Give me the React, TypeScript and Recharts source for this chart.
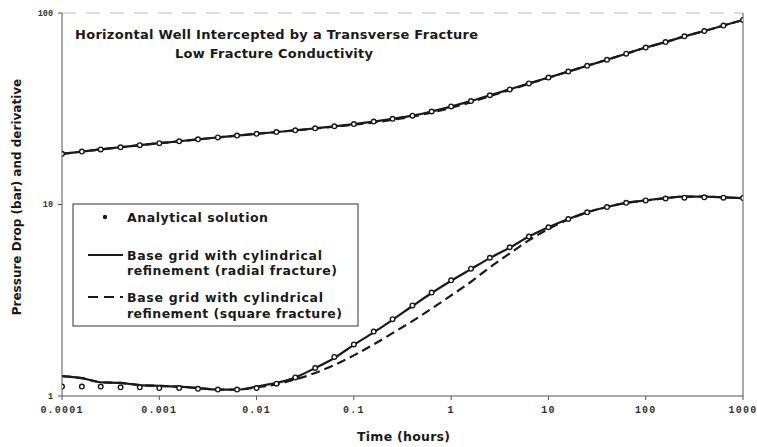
import { ComposedChart, Line, XAxis, YAxis, ReferenceLine } from "recharts";

// time (hours), ~0.2 decade steps
const times = [
  0.0001, 0.00016, 0.00025, 0.0004, 0.00063, 0.001, 0.0016, 0.0025, 0.004, 0.0063,
  0.01, 0.016, 0.025, 0.04, 0.063, 0.1, 0.16, 0.25, 0.4, 0.63,
  1, 1.6, 2.5, 4, 6.3, 10, 16, 25, 40, 63,
  100, 160, 250, 400, 630, 1000,
];

// pressure drop (bar)
const pressureRadial = [
  18.4, 18.9, 19.4, 19.9, 20.4, 20.9, 21.4, 21.9, 22.4, 22.9,
  23.4, 23.9, 24.4, 25.0, 25.6, 26.3, 27.1, 28.0, 29.1, 30.6,
  32.5, 34.7, 37.2, 39.9, 42.9, 46.0, 49.5, 53.0, 57.0, 61.3,
  66.0, 70.5, 75.5, 80.5, 86.0, 92.0,
];
const pressureSquare = [
  18.4, 18.9, 19.4, 19.9, 20.4, 20.9, 21.4, 21.9, 22.4, 22.9,
  23.4, 23.9, 24.4, 24.9, 25.5, 26.1, 26.8, 27.7, 28.8, 30.2,
  32.0, 34.2, 36.8, 39.6, 42.7, 45.9, 49.4, 53.0, 57.0, 61.3,
  66.0, 70.5, 75.5, 80.5, 86.0, 92.0,
];
const pressureAnalytical = [
  18.4, 18.9, 19.4, 19.9, 20.4, 20.9, 21.4, 21.9, 22.4, 22.9,
  23.4, 23.9, 24.4, 25.0, 25.6, 26.3, 27.1, 28.0, 29.1, 30.6,
  32.5, 34.7, 37.2, 39.9, 42.9, 46.0, 49.5, 53.0, 57.0, 61.3,
  66.0, 70.5, 75.5, 80.5, 86.0, 92.0,
];

// pressure derivative (bar)
const derivRadial = [
  1.27, 1.24, 1.18, 1.17, 1.14, 1.13, 1.12, 1.1, 1.08, 1.08,
  1.12, 1.17, 1.25, 1.4, 1.58, 1.85, 2.15, 2.5, 2.95, 3.45,
  4.0, 4.6, 5.25, 5.95, 6.8, 7.6, 8.4, 9.1, 9.7, 10.2,
  10.5, 10.8, 11.0, 11.0, 10.9, 10.8,
];
const derivSquare = [
  1.27, 1.24, 1.18, 1.17, 1.14, 1.13, 1.12, 1.1, 1.08, 1.08,
  1.11, 1.15, 1.22, 1.32, 1.45, 1.63, 1.86, 2.13, 2.46, 2.86,
  3.35, 3.95, 4.7, 5.55, 6.5, 7.45, 8.35, 9.1, 9.7, 10.2,
  10.5, 10.8, 11.0, 11.0, 10.9, 10.8,
];
const derivAnalytical = [
  1.12, 1.12, 1.12, 1.11, 1.11, 1.1, 1.1, 1.09, 1.08, 1.08,
  1.1, 1.16, 1.25, 1.4, 1.6, 1.86, 2.17, 2.52, 2.97, 3.47,
  4.02, 4.62, 5.27, 5.98, 6.8, 7.6, 8.4, 9.1, 9.7, 10.2,
  10.5, 10.75, 10.85, 10.9, 10.85, 10.8,
];

const xTicks = [0.0001, 0.001, 0.01, 0.1, 1, 10, 100, 1000];
const xTickLabels = ["0.0001", "0.001", "0.01", "0.1", "1", "10", "100", "1000"];
const yTicks = [1, 10, 100];
const yTickLabels = ["1", "10", "100"];

const data = times.map((t, i) => ({
  t,
  pRadial: pressureRadial[i],
  pSquare: pressureSquare[i],
  pAnalytical: pressureAnalytical[i],
  dRadial: derivRadial[i],
  dSquare: derivSquare[i],
  dAnalytical: derivAnalytical[i],
}));

const INK = "#1a1a1a";
const SANS = "'DejaVu Sans', sans-serif";
const MONO = "'Liberation Mono', 'DejaVu Sans Mono', monospace";

const dotStyle = { r: 2.3, fill: "#fff", stroke: INK, strokeWidth: 1.4 };

function XTick(props: any) {
  const { x, y, payload } = props;
  const i = xTicks.indexOf(payload.value);
  return (
    <text x={x} y={y} dy="0.71em" textAnchor="middle" fontFamily={MONO} fontWeight="bold"
      fontSize={10} letterSpacing={1.2} fill="#333">
      {i >= 0 ? xTickLabels[i] : payload.value}
    </text>
  );
}

function YTick(props: any) {
  const { x, y, payload } = props;
  const i = yTicks.indexOf(payload.value);
  return (
    <text x={x} y={y} dy="0.35em" textAnchor="end" fontFamily={MONO} fontWeight="bold"
      fontSize={8.5} fill="#333">
      {i >= 0 ? yTickLabels[i] : payload.value}
    </text>
  );
}

export default function App() {
  return (
    <div style={{ position: "absolute", left: 0, top: 0, width: 757, height: 447, background: "#fff" }}>
      <ComposedChart width={757} height={447} data={data}
        margin={{ top: 13, right: 14, bottom: 21, left: 22 }}>
        <XAxis dataKey="t" type="number" scale="log" domain={[0.0001, 1000]} allowDataOverflow
          ticks={xTicks} tick={<XTick />} tickSize={4} tickMargin={6} height={30}
          stroke="#555" interval={0} />
        <YAxis type="number" scale="log" domain={[1, 100]} allowDataOverflow
          ticks={yTicks} tick={<YTick />} tickSize={4} tickMargin={5} width={40}
          stroke="#555" interval={0} />
        <ReferenceLine y={100} stroke="#bbb" strokeDasharray="14 10" strokeWidth={1} />
        <ReferenceLine x={1000} stroke="#555" strokeWidth={1} />

        <Line dataKey="pSquare" type="monotone" stroke={INK} strokeWidth={2.2} strokeDasharray="9 5"
          dot={false} isAnimationActive={false} />
        <Line dataKey="pRadial" type="monotone" stroke={INK} strokeWidth={2.2}
          dot={false} isAnimationActive={false} />
        <Line dataKey="pAnalytical" type="monotone" stroke="none"
          dot={dotStyle} isAnimationActive={false} />

        <Line dataKey="dSquare" type="monotone" stroke={INK} strokeWidth={2.2} strokeDasharray="9 5"
          dot={false} isAnimationActive={false} />
        <Line dataKey="dRadial" type="monotone" stroke={INK} strokeWidth={2.2}
          dot={false} isAnimationActive={false} />
        <Line dataKey="dAnalytical" type="monotone" stroke="none"
          dot={dotStyle} isAnimationActive={false} />
      </ComposedChart>

      <svg width={757} height={447} style={{ position: "absolute", left: 0, top: 0, pointerEvents: "none" }}>
        <g fontFamily={SANS} fontWeight="bold" fill={INK}>
          <text x={75} y={39} fontSize={13} textLength={403} lengthAdjust="spacing">
            Horizontal Well Intercepted by a Transverse Fracture
          </text>
          <text x={175} y={58} fontSize={13} textLength={198} lengthAdjust="spacing">
            Low Fracture Conductivity
          </text>
          <text x={357} y={441} fontSize={12.5} textLength={93} lengthAdjust="spacing">Time (hours)</text>
          <text x={17} y={197} textAnchor="middle" dominantBaseline="central" fontSize={12}
            transform="rotate(-90, 17, 197)">
            Pressure Drop (bar) and derivative
          </text>
        </g>

        <rect x={73} y={204} width={285} height={122} fill="#fff" stroke="#333" strokeWidth={1} />
        <circle cx={105} cy={217} r={2.2} fill={INK} />
        <line x1={88} x2={123} y1={255} y2={255} stroke={INK} strokeWidth={1.8} />
        <line x1={88} x2={123} y1={297} y2={297} stroke={INK} strokeWidth={1.8} strokeDasharray="10 6" />
        <g fontFamily={SANS} fontWeight="bold" fontSize={12.5} fill={INK} dominantBaseline="central">
          <text x={127} y={217} textLength={141} lengthAdjust="spacing">Analytical solution</text>
          <text x={127} y={255} textLength={195} lengthAdjust="spacing">Base grid with cylindrical</text>
          <text x={127} y={270} textLength={210} lengthAdjust="spacing">refinement (radial fracture)</text>
          <text x={127} y={297} textLength={196} lengthAdjust="spacing">Base grid  with cylindrical</text>
          <text x={127} y={313} textLength={215} lengthAdjust="spacing">refinement (square fracture)</text>
        </g>
      </svg>
    </div>
  );
}
